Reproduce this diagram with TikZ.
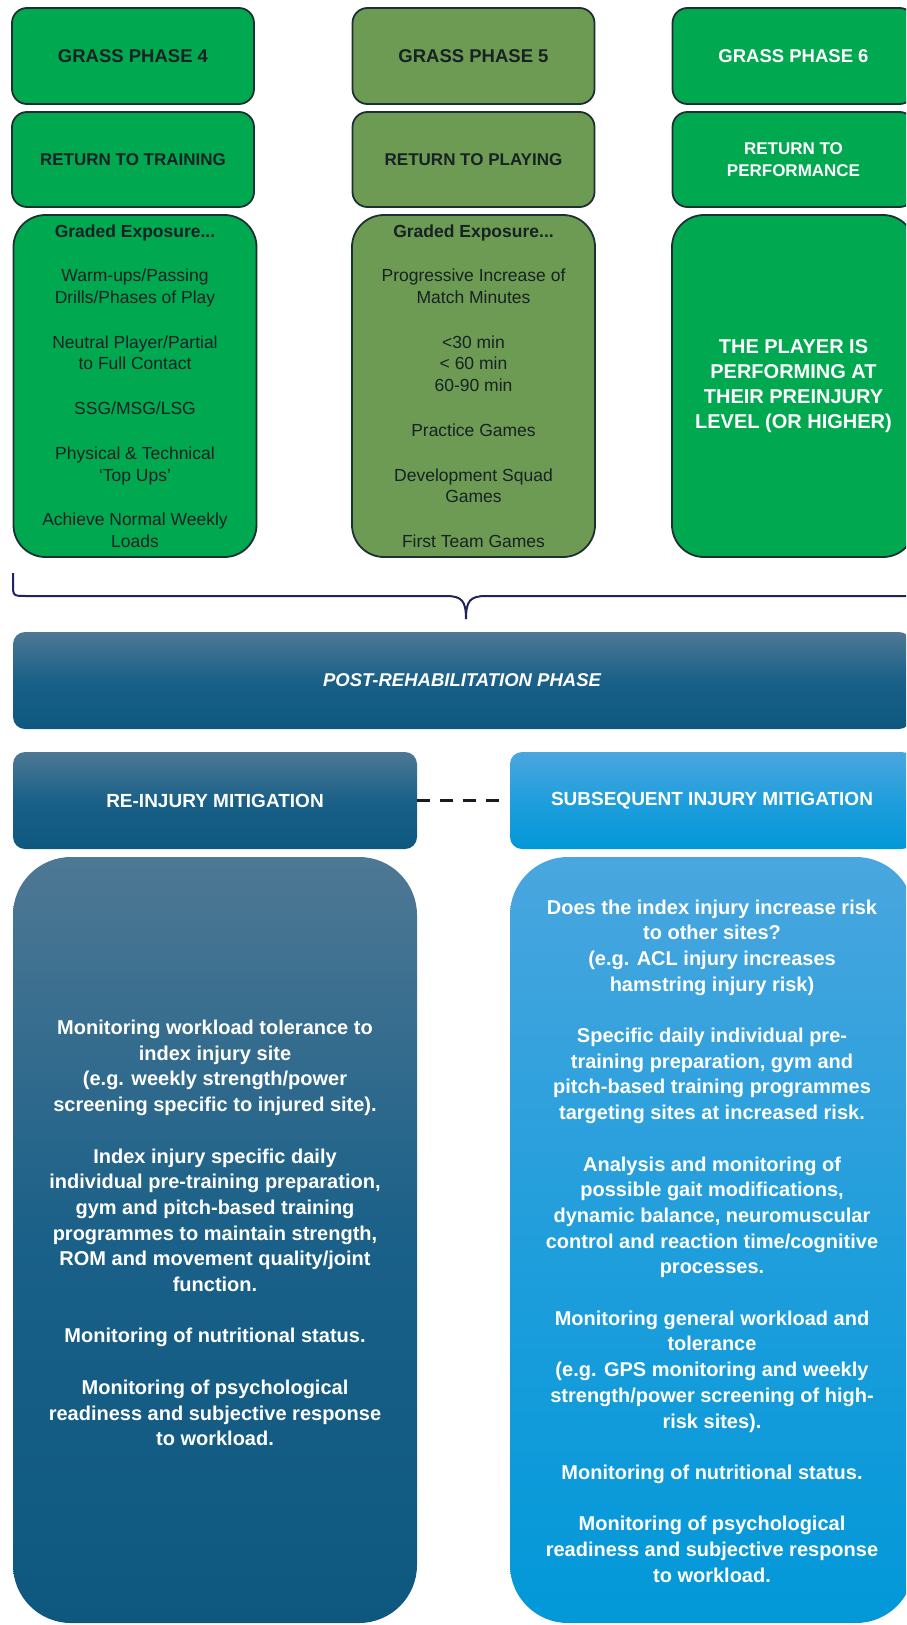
\documentclass[tikz,border=0pt]{standalone}
\usepackage{fontspec}
\setmainfont{Liberation Sans}
\definecolor{grA}{RGB}{0,168,80}
\definecolor{grB}{RGB}{109,155,84}
\definecolor{bordc}{RGB}{28,48,52}
\definecolor{darkT}{RGB}{22,34,36}
\definecolor{navyTop}{RGB}{78,120,148}
\definecolor{navyMid}{RGB}{26,96,136}
\definecolor{navyBot}{RGB}{14,88,128}
\definecolor{skyTop}{RGB}{74,166,222}
\definecolor{skyMid}{RGB}{32,158,220}
\definecolor{skyBot}{RGB}{2,152,216}
\definecolor{braceC}{RGB}{30,36,88}
\definecolor{dashC}{RGB}{25,25,35}
\newcommand{\fsz}[2]{\fontsize{#1pt}{#2pt}\selectfont}
\tikzset{
  gbox/.style={draw=bordc, line width=1.8pt, inner sep=0pt, align=center, text=darkT},
  topbox/.style={gbox, rounded corners=15pt, minimum width=242pt},
  tallbox/.style={gbox, rounded corners=32pt, minimum width=243pt, minimum height=342pt,
                  font=\fsz{17.5}{21.7}},
  navybox/.style={top color=navyTop, bottom color=navyBot, middle color=navyMid,
                  draw=none, inner sep=0pt, text=white, align=center},
  skybox/.style={top color=skyTop, bottom color=skyBot, middle color=skyMid,
                 draw=none, inner sep=0pt, text=white, align=center},
  hdrfont/.style={font=\bfseries\fsz{18.5}{22}},
  retfont/.style={font=\bfseries\fsz{17}{22.5}},
  bodytext/.style={text=white, align=center, inner sep=0pt, font=\bfseries\fsz{20}{25.7}},
  bracestyle/.style={draw=braceC, line width=2pt},
  dashline/.style={draw=dashC, line width=2.6pt, dash pattern=on 13pt off 10pt}
}
\begin{document}
\begin{tikzpicture}[x=1pt,y=-1pt]
\useasboundingbox (0,0) rectangle (906,1625);
\fill[white] (0,0) rectangle (906,1625);
\clip (0,0) rectangle (906,1625);

% ---- top row: grass phases ----
\node[topbox, fill=grA, minimum height=96pt, hdrfont] (p4) at (133,56) {GRASS PHASE 4};
\node[topbox, fill=grB, minimum height=96pt, hdrfont] (p5) at (473.5,56) {GRASS PHASE 5};
\node[topbox, fill=grA, minimum height=96pt, hdrfont, text=white] (p6) at (793.5,56) {GRASS PHASE 6};

\node[topbox, fill=grA, minimum height=95pt, retfont] (r4) at (133,159.5) {RETURN TO TRAINING};
\node[topbox, fill=grB, minimum height=95pt, retfont] (r5) at (473.5,159.5) {RETURN TO PLAYING};
\node[topbox, fill=grA, minimum height=95pt, retfont, text=white] (r6) at (793.5,159.5) {RETURN TO\\PERFORMANCE};

\node[tallbox, fill=grA] (g4) at (135,386) {%
  {\bfseries Graded Exposure...}\\[23pt]
  Warm-ups/Passing\\Drills/Phases of Play\\[23pt]
  Neutral Player/Partial\\to Full Contact\\[23pt]
  SSG/MSG/LSG\\[23pt]
  Physical \& Technical\\‘Top Ups’\\[23pt]
  Achieve Normal Weekly\\Loads};
\node[tallbox, fill=grB] (g5) at (473.5,386) {%
  {\bfseries Graded Exposure...}\\[23pt]
  Progressive Increase of\\Match Minutes\\[23pt]
  <30 min\\< 60 min\\60-90 min\\[23pt]
  Practice Games\\[23pt]
  Development Squad\\Games\\[23pt]
  First Team Games};
\node[tallbox, fill=grA, text=white, font=\bfseries\fsz{20}{25}] (g6) at (793.5,386) {%
  THE PLAYER IS\\PERFORMING AT\\THEIR PREINJURY\\LEVEL (OR HIGHER)};

% ---- brace ----
\coordinate (bl) at (13,573);
\coordinate (bm) at (466,619);
\coordinate (br) at (930,596);
\draw[bracestyle] (bl) -- (13,584) .. controls (13,596) and (13,596) .. (27,596)
  -- (446,596) .. controls (462,596) and (466,601) .. (bm);
\draw[bracestyle] (bm) .. controls (466,601) and (470,596) .. (486,596) -- (br);

% ---- post-rehabilitation ----
\node[navybox, rounded corners=12pt, minimum width=898pt, minimum height=97pt,
      font=\bfseries\itshape\fsz{18.5}{22}] (post) at (462,680.5) {POST-REHABILITATION PHASE};

\node[navybox, rounded corners=12pt, minimum width=404pt, minimum height=97pt,
      font=\bfseries\fsz{19}{23}] (rih) at (215,800.5) {RE-INJURY MITIGATION};
\node[skybox, rounded corners=12pt, minimum width=404pt, minimum height=97pt,
      font=\bfseries\fsz{19}{23}] (sih) at (712,800.5) {SUBSEQUENT INJURY MITIGATION};
\draw[dashline, shorten >=8pt] (rih.east) -- (sih.west);

% ---- bottom boxes ----
\node[navybox, rounded corners=58pt, minimum width=404pt, minimum height=766pt] (rib) at (215,1240) {};
\node[skybox, rounded corners=58pt, minimum width=404pt, minimum height=766pt] (sib) at (712,1240) {};

\node[bodytext] (ritx) at (215,1233) {%
  Monitoring workload tolerance to\\
  index injury site\\
  (e.g. weekly strength/power\\
  screening specific to injured site).\\[25.7pt]
  Index injury specific daily\\
  individual pre-training preparation,\\
  gym and pitch-based training\\
  programmes to maintain strength,\\
  ROM and movement quality/joint\\
  function.\\[25.7pt]
  Monitoring of nutritional status.\\[25.7pt]
  Monitoring of psychological\\
  readiness and subjective response\\
  to workload.};

\node[bodytext] (sitx) at (712,1241) {%
  Does the index injury increase risk\\
  to other sites?\\
  (e.g. ACL injury increases\\
  hamstring injury risk)\\[25.7pt]
  Specific daily individual pre-\\
  training preparation, gym and\\
  pitch-based training programmes\\
  targeting sites at increased risk.\\[25.7pt]
  Analysis and monitoring of\\
  possible gait modifications,\\
  dynamic balance, neuromuscular\\
  control and reaction time/cognitive\\
  processes.\\[25.7pt]
  Monitoring general workload and\\
  tolerance\\
  (e.g. GPS monitoring and weekly\\
  strength/power screening of high-\\
  risk sites).\\[25.7pt]
  Monitoring of nutritional status.\\[25.7pt]
  Monitoring of psychological\\
  readiness and subjective response\\
  to workload.};
\end{tikzpicture}
\end{document}
